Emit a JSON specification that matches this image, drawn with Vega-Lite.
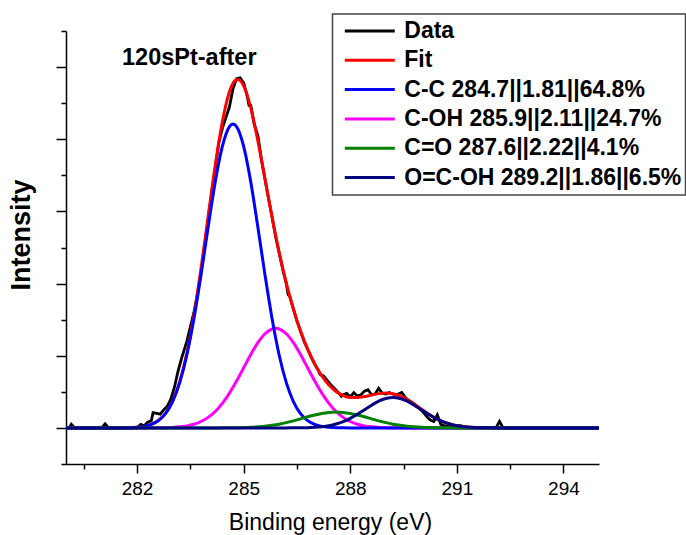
{
"$schema": "https://vega.github.io/schema/vega-lite/v6.json",
"width": 533, "height": 433,
"autosize": {"type": "none"},
"padding": {"left": 66, "top": 31, "right": 87, "bottom": 71},
"background": "white",
"config": {"view": {"stroke": null}, "font": "Liberation Sans"},
"title": {"text": "120sPt-after", "anchor": "start", "frame": "group", "offset": 0, "dx": 56, "dy": 75, "baseline": "alphabetic", "fontSize": 23.5, "fontWeight": "bold", "font": "Liberation Sans", "color": "black"},
"datasets": {
"data": [{"x":280.0,"y":0},{"x":280.1,"y":0.01},{"x":280.15,"y":0.05},{"x":280.25,"y":0},{"x":281.0,"y":0},{"x":281.1,"y":0.055},{"x":281.2,"y":0},{"x":282.0,"y":0},{"x":282.1,"y":0.05},{"x":282.2,"y":0.03},{"x":282.3,"y":0.08},{"x":282.4,"y":0.1},{"x":282.45,"y":0.21},{"x":282.55,"y":0.2},{"x":282.65,"y":0.19},{"x":282.75,"y":0.25},{"x":282.85,"y":0.3},{"x":282.95,"y":0.4},{"x":283.05,"y":0.56},{"x":283.15,"y":0.78},{"x":283.25,"y":0.96},{"x":283.4,"y":1.2},{"x":283.5,"y":1.4},{"x":283.6,"y":1.6},{"x":283.7,"y":1.85},{"x":283.8,"y":2.15},{"x":283.9,"y":2.5},{"x":284.0,"y":2.9},{"x":284.1,"y":3.25},{"x":284.2,"y":3.6},{"x":284.3,"y":3.95},{"x":284.4,"y":4.15},{"x":284.5,"y":4.3},{"x":284.6,"y":4.45},{"x":284.7,"y":4.7},{"x":284.8,"y":4.84},{"x":284.9,"y":4.85},{"x":285.0,"y":4.78},{"x":285.1,"y":4.6},{"x":285.15,"y":4.47},{"x":285.2,"y":4.47},{"x":285.3,"y":4.2},{"x":285.4,"y":4.05},{"x":285.5,"y":3.72},{"x":285.6,"y":3.45},{"x":285.7,"y":3.18},{"x":285.8,"y":2.92},{"x":285.9,"y":2.65},{"x":286.0,"y":2.42},{"x":286.1,"y":2.2},{"x":286.2,"y":2.0},{"x":286.25,"y":1.85},{"x":286.3,"y":1.82},{"x":286.4,"y":1.65},{"x":286.5,"y":1.48},{"x":286.6,"y":1.34},{"x":286.7,"y":1.2},{"x":286.8,"y":1.09},{"x":286.9,"y":0.98},{"x":287.0,"y":0.88},{"x":287.1,"y":0.8},{"x":287.15,"y":0.74},{"x":287.25,"y":0.72},{"x":287.35,"y":0.66},{"x":287.45,"y":0.6},{"x":287.55,"y":0.55},{"x":287.65,"y":0.5},{"x":287.75,"y":0.44},{"x":287.8,"y":0.46},{"x":287.9,"y":0.48},{"x":288.0,"y":0.43},{"x":288.1,"y":0.49},{"x":288.2,"y":0.44},{"x":288.3,"y":0.46},{"x":288.4,"y":0.51},{"x":288.5,"y":0.53},{"x":288.6,"y":0.46},{"x":288.7,"y":0.47},{"x":288.8,"y":0.55},{"x":288.9,"y":0.48},{"x":289.0,"y":0.47},{"x":289.1,"y":0.49},{"x":289.2,"y":0.47},{"x":289.3,"y":0.46},{"x":289.45,"y":0.49},{"x":289.55,"y":0.42},{"x":289.65,"y":0.38},{"x":289.75,"y":0.35},{"x":289.85,"y":0.31},{"x":289.95,"y":0.27},{"x":290.05,"y":0.22},{"x":290.15,"y":0.16},{"x":290.25,"y":0.11},{"x":290.35,"y":0.09},{"x":290.45,"y":0.18},{"x":290.55,"y":0.05},{"x":290.7,"y":0.02},{"x":290.9,"y":0.03},{"x":291.1,"y":0.03},{"x":291.3,"y":0},{"x":292.1,"y":0},{"x":292.2,"y":0.09},{"x":292.3,"y":0},{"x":295.0,"y":0}],
"fit": [{"x":280,"y":0},{"x":281.6,"y":0},{"x":281.8,"y":0.003},{"x":282.0,"y":0.009},{"x":282.2,"y":0.021},{"x":282.4,"y":0.049},{"x":282.6,"y":0.103},{"x":282.8,"y":0.202},{"x":283.0,"y":0.372},{"x":283.2,"y":0.642},{"x":283.4,"y":1.035},{"x":283.6,"y":1.563},{"x":283.8,"y":2.21},{"x":284.0,"y":2.927},{"x":284.2,"y":3.636},{"x":284.4,"y":4.242},{"x":284.6,"y":4.658},{"x":284.7,"y":4.775},{"x":284.8,"y":4.828},{"x":284.9,"y":4.814},{"x":285.0,"y":4.739},{"x":285.2,"y":4.434},{"x":285.4,"y":3.977},{"x":285.6,"y":3.449},{"x":285.8,"y":2.919},{"x":286.0,"y":2.43},{"x":286.2,"y":2.005},{"x":286.4,"y":1.645},{"x":286.6,"y":1.342},{"x":286.8,"y":1.092},{"x":287.0,"y":0.887},{"x":287.2,"y":0.721},{"x":287.4,"y":0.595},{"x":287.6,"y":0.505},{"x":287.8,"y":0.449},{"x":288.0,"y":0.423},{"x":288.2,"y":0.42},{"x":288.4,"y":0.434},{"x":288.6,"y":0.455},{"x":288.8,"y":0.475},{"x":289.0,"y":0.484},{"x":289.2,"y":0.474},{"x":289.4,"y":0.444},{"x":289.6,"y":0.393},{"x":289.8,"y":0.33},{"x":290.0,"y":0.261},{"x":290.2,"y":0.194},{"x":290.4,"y":0.136},{"x":290.6,"y":0.088},{"x":290.8,"y":0.055},{"x":291.0,"y":0.031},{"x":291.2,"y":0.017},{"x":291.4,"y":0.009},{"x":291.6,"y":0.004},{"x":291.8,"y":0.002},{"x":292.0,"y":0.001},{"x":292.4,"y":0},{"x":295,"y":0}],
"cc": [{"x":280,"y":0},{"x":281.4,"y":0},{"x":281.6,"y":0.001},{"x":281.8,"y":0.003},{"x":282.0,"y":0.009},{"x":282.2,"y":0.021},{"x":282.4,"y":0.048},{"x":282.6,"y":0.101},{"x":282.8,"y":0.198},{"x":283.0,"y":0.365},{"x":283.2,"y":0.627},{"x":283.4,"y":1.007},{"x":283.6,"y":1.512},{"x":283.8,"y":2.121},{"x":284.0,"y":2.781},{"x":284.2,"y":3.408},{"x":284.4,"y":3.901},{"x":284.6,"y":4.175},{"x":284.7,"y":4.21},{"x":284.8,"y":4.175},{"x":285.0,"y":3.901},{"x":285.2,"y":3.408},{"x":285.4,"y":2.781},{"x":285.6,"y":2.121},{"x":285.8,"y":1.512},{"x":286.0,"y":1.007},{"x":286.2,"y":0.627},{"x":286.4,"y":0.365},{"x":286.6,"y":0.198},{"x":286.8,"y":0.101},{"x":287.0,"y":0.048},{"x":287.2,"y":0.021},{"x":287.4,"y":0.009},{"x":287.6,"y":0.003},{"x":287.8,"y":0.001},{"x":288.0,"y":0},{"x":295,"y":0}],
"coh": [{"x":280,"y":0},{"x":282.2,"y":0},{"x":282.4,"y":0.001},{"x":282.6,"y":0.002},{"x":282.8,"y":0.004},{"x":283.0,"y":0.007},{"x":283.2,"y":0.015},{"x":283.4,"y":0.028},{"x":283.6,"y":0.051},{"x":283.8,"y":0.089},{"x":284.0,"y":0.146},{"x":284.2,"y":0.228},{"x":284.4,"y":0.34},{"x":284.6,"y":0.482},{"x":284.8,"y":0.65},{"x":285.0,"y":0.833},{"x":285.2,"y":1.017},{"x":285.4,"y":1.181},{"x":285.6,"y":1.305},{"x":285.8,"y":1.371},{"x":285.9,"y":1.38},{"x":286.0,"y":1.371},{"x":286.2,"y":1.305},{"x":286.4,"y":1.181},{"x":286.6,"y":1.017},{"x":286.8,"y":0.833},{"x":287.0,"y":0.65},{"x":287.2,"y":0.482},{"x":287.4,"y":0.34},{"x":287.6,"y":0.228},{"x":287.8,"y":0.146},{"x":288.0,"y":0.089},{"x":288.2,"y":0.051},{"x":288.4,"y":0.028},{"x":288.6,"y":0.015},{"x":288.8,"y":0.007},{"x":289.0,"y":0.004},{"x":289.2,"y":0.002},{"x":289.4,"y":0.001},{"x":289.6,"y":0},{"x":295,"y":0}],
"co": [{"x":280,"y":0},{"x":284.2,"y":0},{"x":284.4,"y":0.001},{"x":284.6,"y":0.001},{"x":284.8,"y":0.003},{"x":285.0,"y":0.005},{"x":285.2,"y":0.009},{"x":285.4,"y":0.015},{"x":285.6,"y":0.023},{"x":285.8,"y":0.036},{"x":286.0,"y":0.052},{"x":286.2,"y":0.073},{"x":286.4,"y":0.098},{"x":286.6,"y":0.125},{"x":286.8,"y":0.154},{"x":287.0,"y":0.18},{"x":287.2,"y":0.201},{"x":287.4,"y":0.215},{"x":287.6,"y":0.22},{"x":287.8,"y":0.215},{"x":288.0,"y":0.201},{"x":288.2,"y":0.18},{"x":288.4,"y":0.154},{"x":288.6,"y":0.125},{"x":288.8,"y":0.098},{"x":289.0,"y":0.073},{"x":289.2,"y":0.052},{"x":289.4,"y":0.036},{"x":289.6,"y":0.023},{"x":289.8,"y":0.015},{"x":290.0,"y":0.009},{"x":290.2,"y":0.005},{"x":290.4,"y":0.003},{"x":290.6,"y":0.001},{"x":290.8,"y":0.001},{"x":291.0,"y":0},{"x":295,"y":0}],
"ocoh": [{"x":280,"y":0},{"x":286.2,"y":0},{"x":286.4,"y":0.001},{"x":286.6,"y":0.002},{"x":286.8,"y":0.004},{"x":287.0,"y":0.009},{"x":287.2,"y":0.017},{"x":287.4,"y":0.031},{"x":287.6,"y":0.054},{"x":287.8,"y":0.087},{"x":288.0,"y":0.133},{"x":288.2,"y":0.189},{"x":288.4,"y":0.252},{"x":288.6,"y":0.315},{"x":288.8,"y":0.37},{"x":289.0,"y":0.407},{"x":289.2,"y":0.42},{"x":289.4,"y":0.407},{"x":289.6,"y":0.37},{"x":289.8,"y":0.315},{"x":290.0,"y":0.252},{"x":290.2,"y":0.189},{"x":290.4,"y":0.133},{"x":290.6,"y":0.087},{"x":290.8,"y":0.054},{"x":291.0,"y":0.031},{"x":291.2,"y":0.017},{"x":291.4,"y":0.009},{"x":291.6,"y":0.004},{"x":291.8,"y":0.002},{"x":292.0,"y":0.001},{"x":292.2,"y":0},{"x":295,"y":0}]
},
"encoding": {
 "x": {"field": "x", "type": "quantitative", "scale": {"domain": [280, 295], "nice": false, "zero": false},
  "axis": {"values": [280.5,282,283.5,285,286.5,288,289.5,291,292.5,294], "labelExpr": "datum.value % 3 === 0 ? datum.label : ''",
   "tickSize": {"condition": {"test": "datum.value % 3 === 0", "value": 9}, "value": 5},
   "labelPadding": 6, "labelFont": "Liberation Sans", "labelFontSize": 19, "labelColor": "black", "labelFlush": false, "labelOverlap": false,
   "domainColor": "black", "domainWidth": 1.5, "tickColor": "black", "tickWidth": 1.5, "grid": false,
   "title": "Binding energy (eV)", "titleFont": "Liberation Sans", "titleFontSize": 23, "titleFontWeight": "normal", "titleColor": "black",
   "titleX": 264, "titleY": 65, "titleBaseline": "alphabetic", "titleAlign": "center"}},
 "y": {"field": "y", "type": "quantitative", "scale": {"domain": [-0.5, 5.5], "nice": false, "zero": false},
  "axis": {"values": [-0.5,0,0.5,1,1.5,2,2.5,3,3.5,4,4.5,5,5.5], "labels": false,
   "tickSize": {"condition": {"test": "datum.value % 1 === 0", "value": 10}, "value": 5},
   "domainColor": "black", "domainWidth": 1.5, "tickColor": "black", "tickWidth": 1.5, "grid": false,
   "title": "Intensity", "titleFont": "Liberation Sans", "titleFontSize": 27, "titleFontWeight": "bold", "titleColor": "black",
   "titleX": -37, "titleY": 203.5, "titleBaseline": "alphabetic", "titleAngle": -90, "titleAlign": "center"}}
},
"layer": [
 {"data": {"name": "data"}, "mark": {"type": "line", "strokeWidth": 2.8, "clip": true},
  "encoding": {"color": {"datum": "Data", "type": "nominal",
   "scale": {"domain": ["Data","Fit","C-C 284.7||1.81||64.8%","C-OH 285.9||2.11||24.7%","C=O 287.6||2.22||4.1%","O=C-OH 289.2||1.86||6.5%"], "range": ["#000000","#ff0000","#0000ff","#ff00ff","#008000","#000080"]},
   "legend": {"title": null, "orient": "none", "legendX": 266.5, "legendY": -17, "symbolType": "stroke", "symbolSize": 2500, "symbolStrokeWidth": 3, "clipHeight": 26, "rowPadding": 3.3, "padding": 4, "symbolOffset": 6.8, "labelOffset": 8, "labelFont": "Liberation Sans", "labelFontSize": 23, "labelFontWeight": "bold", "labelColor": "black", "labelLimit": 400, "strokeColor": "#444444", "fillColor": "white", "symbolOpacity": 1,
    "encode": {"legend": {"update": {"strokeWidth": {"value": 1.5}}}}}}}},
 {"data": {"name": "fit"}, "mark": {"type": "line", "strokeWidth": 3, "interpolate": "monotone", "clip": true}, "encoding": {"color": {"datum": "Fit", "type": "nominal"}}},
 {"data": {"name": "coh"}, "mark": {"type": "line", "strokeWidth": 3, "interpolate": "monotone", "clip": true}, "encoding": {"color": {"datum": "C-OH 285.9||2.11||24.7%", "type": "nominal"}}},
 {"data": {"name": "cc"}, "mark": {"type": "line", "strokeWidth": 3, "interpolate": "monotone", "clip": true}, "encoding": {"color": {"datum": "C-C 284.7||1.81||64.8%", "type": "nominal"}}},
 {"data": {"name": "co"}, "mark": {"type": "line", "strokeWidth": 3, "interpolate": "monotone", "clip": true}, "encoding": {"color": {"datum": "C=O 287.6||2.22||4.1%", "type": "nominal"}}},
 {"data": {"name": "ocoh"}, "mark": {"type": "line", "strokeWidth": 3, "interpolate": "monotone", "clip": true}, "encoding": {"color": {"datum": "O=C-OH 289.2||1.86||6.5%", "type": "nominal"}}}
]
}
